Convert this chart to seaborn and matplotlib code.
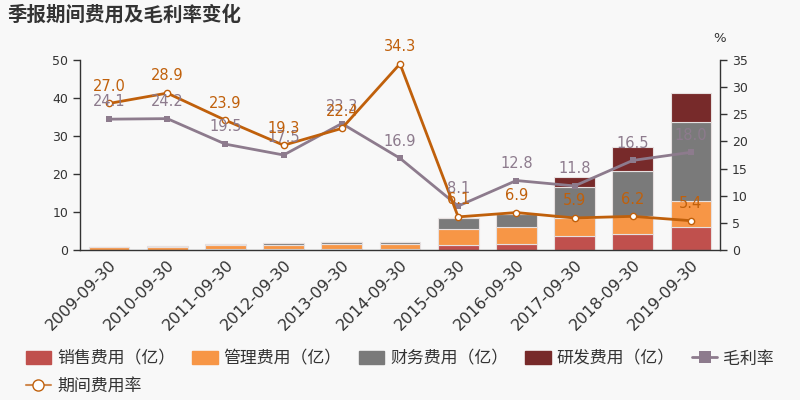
import numpy as np
import pandas as pd
import matplotlib
matplotlib.use("Agg")
import matplotlib.pyplot as plt
import matplotlib.patches as mpatches
from matplotlib.lines import Line2D
import seaborn as sns

sns.set_style("white")
plt.rcParams['font.family'] = ['DejaVu Sans', 'Noto Sans CJK SC']

dates = ["2009-09-30", "2010-09-30", "2011-09-30", "2012-09-30", "2013-09-30",
         "2014-09-30", "2015-09-30", "2016-09-30", "2017-09-30", "2018-09-30",
         "2019-09-30"]
sales = [0.05, 0.05, 0.3, 0.35, 0.35, 0.35, 1.2, 1.6, 3.8, 4.1, 6.1]
admin = [0.65, 0.85, 0.9, 1.05, 1.15, 1.2, 4.2, 4.4, 4.7, 4.9, 6.8]
finance = [0.1, 0.15, 0.4, 0.5, 0.6, 0.65, 2.9, 3.4, 8.2, 11.9, 20.8]
rnd = [0, 0, 0, 0, 0, 0, 0, 0, 2.6, 6.2, 7.5]
gross_margin = [24.1, 24.2, 19.5, 17.5, 23.3, 16.9, 8.1, 12.8, 11.8, 16.5, 18.0]
expense_rate = [27.0, 28.9, 23.9, 19.3, 22.4, 34.3, 6.1, 6.9, 5.9, 6.2, 5.4]

series_names = ["销售费用（亿）", "管理费用（亿）", "财务费用（亿）", "研发费用（亿）"]
line_names = ["毛利率", "期间费用率"]
title = "季报期间费用及毛利率变化"

bar_colors = ["#c0504d", "#f79646", "#7a7a7a", "#772a2a"]
gm_color = "#8d7b8d"
er_color = "#c0600b"
bg = "#f8f8f8"
text_color = "#333333"

fig = plt.figure(figsize=(8, 4), dpi=100, facecolor=bg)
ax = fig.add_axes([0.1, 0.375, 0.8, 0.475], facecolor=bg)

df = pd.DataFrame({"date": dates, "sales": sales, "admin": admin,
                   "finance": finance, "rnd": rnd})
bottom = np.zeros(len(dates))
for col, c in zip(["sales", "admin", "finance", "rnd"], bar_colors):
    sns.barplot(data=df, x="date", y=col, color=c, saturation=1, width=0.7,
                bottom=bottom.copy(), ax=ax, edgecolor="#e6e0e0", linewidth=0.8,
                errorbar=None)
    bottom = bottom + np.array(df[col])

ax.set_xlim(-0.5, len(dates) - 0.5)
ax.set_ylim(0, 50)
ax.set_yticks(range(0, 51, 10))
ax.set_xlabel("")
ax.set_ylabel("")
ax.set_xticks(np.arange(len(dates)))
ax.set_xticklabels(dates, rotation=45, ha="right", rotation_mode="anchor",
                   fontsize=11.5, color=text_color)
ax.set_xticks(np.arange(len(dates) + 1) - 0.5, minor=True)
ax.tick_params(axis="x", which="major", length=0, pad=5)
ax.tick_params(axis="x", which="minor", length=5, color=text_color, width=1)
ax.tick_params(axis="y", length=5, color=text_color, labelsize=9, labelcolor=text_color, width=1)
for s in ["top", "right"]:
    ax.spines[s].set_visible(False)
for s in ["left", "bottom"]:
    ax.spines[s].set_color(text_color)
    ax.spines[s].set_linewidth(1)

ax2 = ax.twinx()
x = np.arange(len(dates))
sns.lineplot(x=x, y=gross_margin, ax=ax2, color=gm_color, linewidth=2,
             marker="s", markersize=5, markeredgewidth=0, markerfacecolor=gm_color)
sns.lineplot(x=x, y=expense_rate, ax=ax2, color=er_color, linewidth=2,
             marker="o", markersize=4.5, markerfacecolor="white",
             markeredgecolor=er_color, markeredgewidth=1)
ax2.set_ylim(0, 35)
ax2.set_yticks(range(0, 36, 5))
ax2.tick_params(axis="y", length=5, color=text_color, labelsize=9, labelcolor=text_color, width=1)
for s in ["top", "left", "bottom"]:
    ax2.spines[s].set_visible(False)
ax2.spines["right"].set_color(text_color)
ax2.spines["right"].set_linewidth(1)
ax2.set_xlim(-0.5, len(dates) - 0.5)

for xi, v in zip(x, gross_margin):
    ax2.annotate(f"{v:.1f}", (xi, v), xytext=(0, 7), textcoords="offset points",
                 ha="center", va="bottom", fontsize=10.5, color=gm_color)
for xi, v in zip(x, expense_rate):
    ax2.annotate(f"{v:.1f}", (xi, v), xytext=(0, 7), textcoords="offset points",
                 ha="center", va="bottom", fontsize=10.5, color=er_color)

fig.text(0.9, 0.905, "%", ha="center", va="center", fontsize=9.5, color=text_color)
fig.text(0.01, 0.963, title, ha="left", va="center", fontsize=14,
         fontweight="bold", color=text_color)

patches = [mpatches.Patch(facecolor=c, edgecolor=c, label=n)
           for c, n in zip(bar_colors, series_names)]
gm_handle = Line2D([], [], color=gm_color, linewidth=2, marker="s", markersize=8,
                   markerfacecolor=gm_color, markeredgewidth=0, label=line_names[0])
er_handle = Line2D([], [], color="#d08a50", linewidth=1.5, marker="o", markersize=8,
                   markerfacecolor="white", markeredgecolor=er_color,
                   markeredgewidth=1, label=line_names[1])
handles = [patches[0], er_handle, patches[1], patches[2], patches[3], gm_handle]
fig.legend(handles=handles, loc="upper left", bbox_to_anchor=(0.032, 0.126),
           ncol=5, frameon=False, fontsize=12.2, handlelength=1.5,
           handleheight=0.8, handletextpad=0.36, columnspacing=1.0,
           labelspacing=0.55, labelcolor=text_color, borderaxespad=0, borderpad=0)

fig.savefig("out.png", dpi=100, facecolor=bg)
